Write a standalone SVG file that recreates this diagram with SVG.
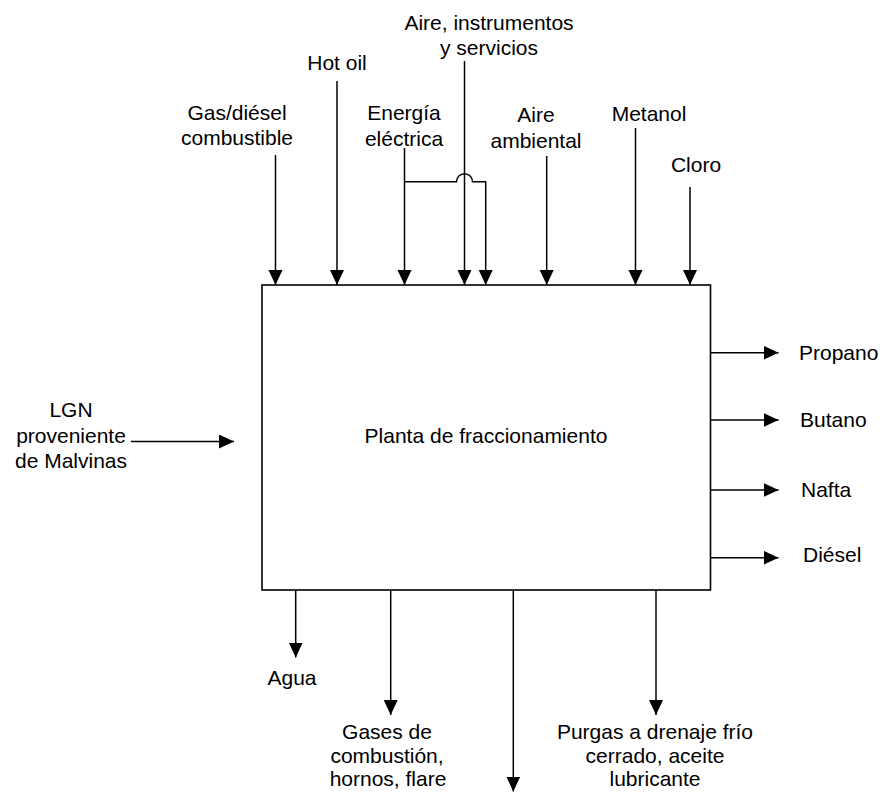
<svg xmlns="http://www.w3.org/2000/svg" width="882" height="792" viewBox="0 0 882 792">
<style>
text{font-family:"Liberation Sans",Arial,sans-serif;font-size:21px;fill:#000}
.c{text-anchor:middle}
.ln{stroke:#000;stroke-width:1.5;fill:none}
.ar{marker-end:url(#ah)}
</style>
<defs>
<marker id="ah" markerUnits="userSpaceOnUse" markerWidth="16" markerHeight="15" refX="15" refY="7" orient="auto">
<path d="M0,0 L15,7 L0,14 z" fill="#000"/>
</marker>
</defs>
<rect width="882" height="792" fill="#fff"/>
<g id="planta">
<rect x="262" y="285" width="448.5" height="305" fill="#fff" stroke="#000" stroke-width="1.6"/>
<text class="c" x="486" y="443">Planta de fraccionamiento</text>
</g>
<g id="labels">
<g id="gas"><text class="c" x="237" y="120">Gas/diésel</text><text class="c" x="237" y="145">combustible</text></g>
<g id="hotoil"><text class="c" x="337" y="70">Hot oil</text></g>
<g id="energia"><text class="c" x="404" y="120">Energía</text><text class="c" x="404" y="146">eléctrica</text></g>
<g id="aireinst"><text class="c" x="489" y="30">Aire, instrumentos</text><text class="c" x="489" y="55">y servicios</text></g>
<g id="aireamb"><text class="c" x="536" y="122">Aire</text><text class="c" x="536" y="148">ambiental</text></g>
<g id="metanol"><text class="c" x="649" y="121">Metanol</text></g>
<g id="cloro"><text class="c" x="696" y="172">Cloro</text></g>
<g id="lgn"><text class="c" x="71" y="417">LGN</text><text class="c" x="71" y="443">proveniente</text><text class="c" x="71" y="468">de Malvinas</text></g>
<g id="propano"><text x="799" y="360">Propano</text></g>
<g id="butano"><text x="800" y="427">Butano</text></g>
<g id="nafta"><text x="801" y="497">Nafta</text></g>
<g id="diesel"><text x="803" y="562">Diésel</text></g>
<g id="agua"><text class="c" x="292" y="685">Agua</text></g>
<g id="gases"><text class="c" x="387" y="739">Gases de</text><text class="c" x="387" y="763">combustión,</text><text class="c" x="388" y="786">hornos, flare</text></g>
<g id="purgas"><text class="c" x="655" y="739">Purgas a drenaje frío</text><text class="c" x="655" y="763">cerrado, aceite</text><text class="c" x="655" y="786">lubricante</text></g>
</g>
<g id="connectors" class="ln">
<line class="ar" x1="275.5" y1="155" x2="275.5" y2="285"/>
<line class="ar" x1="337" y1="81" x2="337" y2="285"/>
<line class="ar" x1="404.5" y1="148" x2="404.5" y2="285"/>
<line class="ar" x1="464.5" y1="61" x2="464.5" y2="285"/>
<path class="ar" d="M404.5,181.7 H456.5 A8,8 0 0 1 472.5,181.7 H485.7 V285"/>
<line class="ar" x1="546.7" y1="156" x2="546.7" y2="285"/>
<line class="ar" x1="635.5" y1="128" x2="635.5" y2="285"/>
<line class="ar" x1="690" y1="187" x2="690" y2="285"/>
<line class="ar" x1="131" y1="441.5" x2="234" y2="441.5"/>
<line class="ar" x1="710.5" y1="352.7" x2="778.5" y2="352.7"/>
<line class="ar" x1="710.5" y1="420" x2="778.5" y2="420"/>
<line class="ar" x1="710.5" y1="490" x2="778.5" y2="490"/>
<line class="ar" x1="710.5" y1="557.7" x2="778.5" y2="557.7"/>
<line class="ar" x1="295.7" y1="590" x2="295.7" y2="657.5"/>
<line class="ar" x1="390.7" y1="590" x2="390.7" y2="715"/>
<line class="ar" x1="513.3" y1="590" x2="513.3" y2="791.5"/>
<line class="ar" x1="656" y1="590" x2="656" y2="715"/>
</g>
</svg>
